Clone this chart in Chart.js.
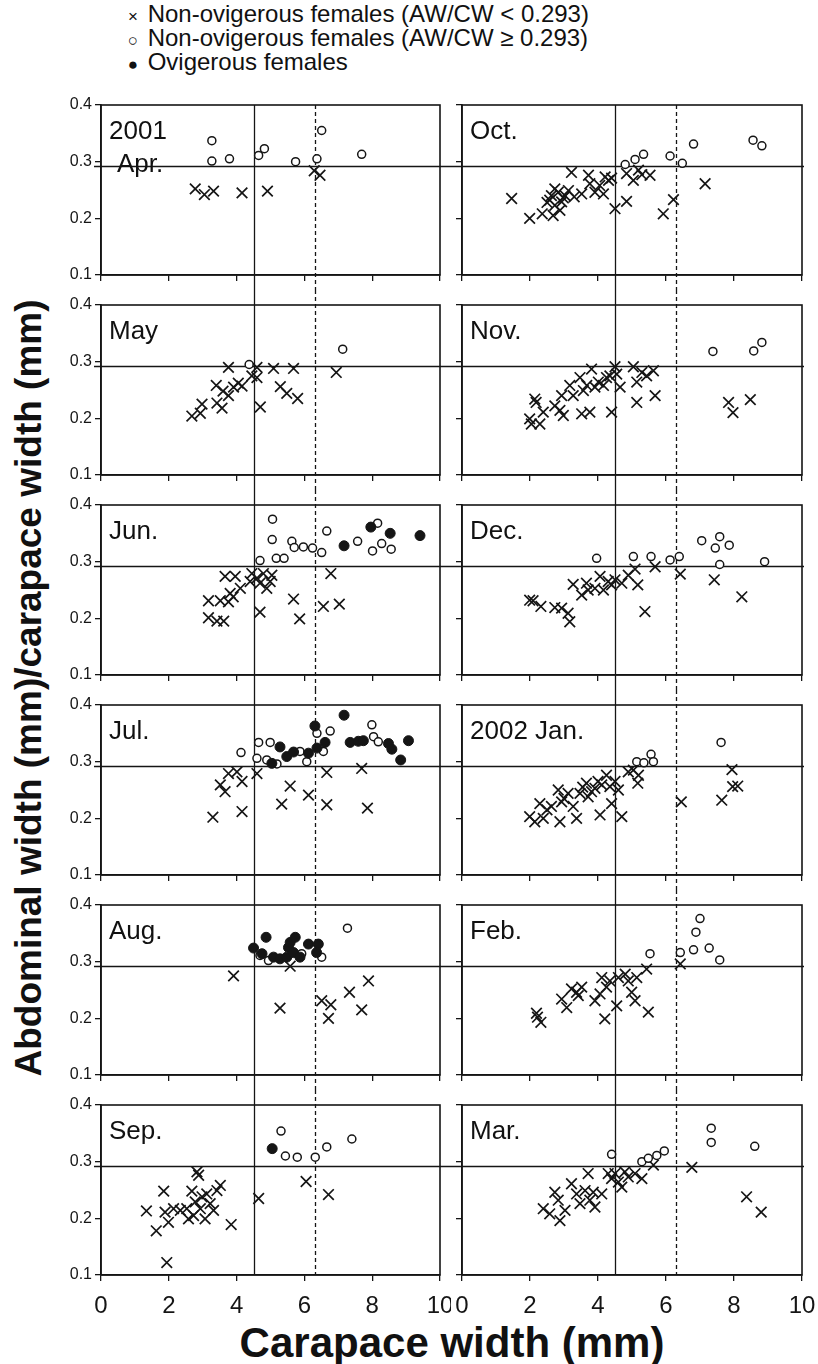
<!DOCTYPE html>
<html>
<head>
<meta charset="utf-8">
<script src="https://cdn.jsdelivr.net/npm/chart.js@4/dist/chart.umd.min.js"></script>
<style>
body { margin: 0; background: #fff; font-family: "Liberation Sans", Arial, sans-serif; color: #111; }
#page { position: relative; width: 818px; height: 1364px; overflow: hidden; }
.box { position: absolute; }
.lg { position: absolute; left: 125px; font-size: 24px; line-height: 24px; white-space: nowrap; }
.lg .mk { display: inline-block; width: 16px; text-align: center; font-size: 17px; }
.ptitle { position: absolute; font-size: 26px; line-height: 33px; white-space: nowrap; }
.ptitle .ind { padding-left: 8px; }
.rot { position: absolute; left: 29px; top: 688px; width: 0; height: 0; }
#ytitle { position: absolute; left: 0; top: 0; transform: translate(-50%, -50%) rotate(-90deg);
  font-weight: bold; font-size: 37px; line-height: 40px; white-space: nowrap; }
#xtitle { position: absolute; left: 452px; top: 1343px; transform: translate(-50%, -50%);
  font-weight: bold; font-size: 42px; line-height: 42px; white-space: nowrap; }
</style>
</head>
<body>
<div id="page">
  <div class="lg" style="top:2px"><span class="mk">×</span> Non-ovigerous females (AW/CW &lt; 0.293)</div>
  <div class="lg" style="top:26px"><span class="mk">○</span> Non-ovigerous females (AW/CW ≥ 0.293)</div>
  <div class="lg" style="top:50px"><span class="mk">●</span> Ovigerous females</div>
  <div class="rot"><div id="ytitle">Abdominal width (mm)/carapace width (mm)</div></div>
  <div id="xtitle">Carapace width (mm)</div>
</div>
<script>
// Tick values and threshold lines
const xTicks = [0, 2, 4, 6, 8, 10];
const yTicks = [0.1, 0.2, 0.3, 0.4];
const ratioCut = 0.293;
const cwSolid = 4.5;
const cwDashed = 6.3;

// [carapace width, AW/CW] per month
const aprCross = [[2.78,0.252],[3.05,0.242],[3.32,0.248],[4.16,0.245],[4.91,0.248],[6.29,0.284],[6.46,0.276]];
const aprOpen = [[3.27,0.337],[3.27,0.301],[3.79,0.305],[4.65,0.311],[4.82,0.323],[5.74,0.300],[6.37,0.305],[6.51,0.355],[7.69,0.313]];

const mayCross = [[2.68,0.204],[2.93,0.209],[2.98,0.225],[3.42,0.227],[3.57,0.218],[3.76,0.290],[3.40,0.258],[3.60,0.248],[3.76,0.240],[3.91,0.255],[4.16,0.257],[4.05,0.262],[4.45,0.275],[4.60,0.272],[4.60,0.290],[4.70,0.220],[5.09,0.288],[5.68,0.288],[5.29,0.256],[5.48,0.244],[5.80,0.235],[6.94,0.281]];
const mayOpen = [[4.37,0.295],[7.13,0.322]];

const junCross = [[3.17,0.201],[3.42,0.195],[3.62,0.195],[3.17,0.231],[3.52,0.231],[3.66,0.274],[3.96,0.274],[3.81,0.244],[3.76,0.229],[3.90,0.238],[4.11,0.253],[4.45,0.279],[4.60,0.271],[4.69,0.262],[4.79,0.279],[4.89,0.253],[5.04,0.276],[4.99,0.265],[4.40,0.265],[4.69,0.211],[5.68,0.234],[5.86,0.199],[6.56,0.221],[6.78,0.279],[7.03,0.225]];
const junOpen = [[5.06,0.375],[5.05,0.339],[4.69,0.302],[5.17,0.306],[5.40,0.306],[5.63,0.336],[5.70,0.325],[5.97,0.326],[6.24,0.324],[6.51,0.316],[6.66,0.354],[7.57,0.336],[8.01,0.319],[8.16,0.368],[8.28,0.332],[8.56,0.322]];
const junFilled = [[7.17,0.328],[7.96,0.361],[8.53,0.350],[9.41,0.346]];

const julCross = [[3.30,0.202],[3.52,0.259],[3.66,0.247],[3.76,0.279],[4.01,0.282],[4.16,0.265],[4.16,0.212],[4.60,0.279],[5.33,0.225],[5.58,0.257],[6.12,0.241],[6.66,0.281],[6.66,0.224],[7.69,0.288],[7.86,0.218]];
const julOpen = [[4.13,0.316],[4.65,0.334],[4.99,0.334],[4.60,0.306],[4.89,0.303],[5.19,0.296],[5.87,0.318],[6.07,0.300],[6.37,0.350],[6.76,0.354],[6.56,0.318],[7.99,0.365],[8.04,0.344],[8.18,0.335]];
const julFilled = [[5.04,0.297],[5.28,0.326],[5.48,0.309],[5.68,0.317],[6.12,0.315],[6.31,0.363],[6.37,0.324],[6.61,0.334],[7.17,0.382],[7.35,0.334],[7.59,0.336],[7.74,0.337],[8.48,0.332],[8.58,0.322],[8.84,0.303],[9.07,0.337]];

const augCross = [[3.91,0.275],[5.28,0.218],[5.58,0.292],[6.51,0.231],[6.78,0.224],[6.71,0.200],[7.33,0.246],[7.69,0.215],[7.89,0.266]];
const augOpen = [[4.69,0.311],[4.94,0.302],[5.92,0.314],[6.51,0.308],[7.27,0.359]];
const augFilled = [[4.50,0.324],[4.87,0.343],[4.75,0.314],[5.09,0.308],[5.28,0.305],[5.48,0.308],[5.53,0.325],[5.58,0.334],[5.73,0.343],[5.68,0.316],[5.87,0.308],[6.12,0.331],[6.41,0.331],[6.36,0.316]];

const sepCross = [[1.34,0.213],[1.63,0.178],[1.85,0.248],[1.89,0.211],[1.94,0.122],[1.99,0.193],[2.14,0.217],[2.34,0.214],[2.53,0.217],[2.58,0.199],[2.68,0.248],[2.73,0.205],[2.78,0.229],[2.83,0.282],[2.88,0.276],[2.93,0.217],[2.98,0.238],[3.07,0.199],[3.12,0.243],[3.22,0.226],[3.32,0.214],[3.42,0.249],[3.52,0.258],[3.84,0.189],[4.65,0.235],[6.05,0.265],[6.71,0.242]];
const sepOpen = [[5.31,0.354],[5.44,0.310],[5.79,0.308],[6.32,0.308],[6.66,0.326],[7.40,0.340]];
const sepFilled = [[5.05,0.323]];

const octCross = [[1.46,0.235],[1.99,0.200],[2.36,0.208],[2.50,0.228],[2.63,0.240],[2.73,0.223],[2.68,0.205],[2.83,0.246],[2.93,0.229],[2.98,0.236],[3.03,0.240],[3.13,0.249],[2.73,0.252],[2.58,0.232],[2.88,0.214],[3.30,0.238],[3.22,0.281],[3.52,0.243],[3.72,0.276],[3.76,0.261],[3.91,0.246],[4.05,0.258],[4.16,0.243],[4.21,0.273],[4.31,0.267],[4.40,0.271],[4.50,0.217],[4.84,0.230],[4.84,0.279],[5.04,0.267],[5.19,0.285],[5.29,0.277],[5.53,0.276],[5.92,0.208],[6.22,0.233],[7.15,0.261]];
const octOpen = [[4.80,0.295],[5.09,0.304],[5.34,0.313],[6.12,0.310],[6.48,0.297],[6.81,0.331],[8.56,0.338],[8.82,0.328]];

const novCross = [[2.04,0.190],[2.29,0.190],[1.99,0.199],[2.14,0.234],[2.18,0.228],[2.39,0.211],[2.73,0.222],[2.88,0.214],[2.98,0.205],[2.93,0.240],[3.17,0.258],[3.27,0.240],[3.47,0.272],[3.52,0.208],[3.76,0.211],[3.57,0.249],[3.67,0.258],[3.81,0.287],[3.91,0.255],[4.01,0.264],[4.16,0.258],[4.25,0.272],[4.35,0.275],[4.40,0.211],[4.50,0.291],[4.55,0.278],[4.65,0.255],[5.04,0.291],[5.14,0.264],[5.14,0.228],[5.29,0.281],[5.43,0.275],[5.63,0.284],[5.68,0.240],[7.84,0.228],[7.97,0.210],[8.48,0.233]];
const novOpen = [[7.38,0.318],[8.58,0.319],[8.82,0.334]];

const decCross = [[1.99,0.232],[2.09,0.231],[2.32,0.221],[2.73,0.219],[2.93,0.218],[3.12,0.209],[3.17,0.194],[3.27,0.260],[3.52,0.241],[3.66,0.262],[3.71,0.250],[3.91,0.253],[4.06,0.274],[4.16,0.250],[4.30,0.265],[4.40,0.259],[4.50,0.268],[4.70,0.262],[4.89,0.276],[5.09,0.287],[5.17,0.259],[5.38,0.212],[5.68,0.291],[6.42,0.278],[7.42,0.268],[8.23,0.238]];
const decOpen = [[3.96,0.306],[5.04,0.309],[5.56,0.309],[6.12,0.303],[6.39,0.309],[7.05,0.337],[7.45,0.324],[7.58,0.344],[7.86,0.329],[7.58,0.295],[8.90,0.300]];

const janCross = [[1.99,0.203],[2.14,0.194],[2.29,0.226],[2.39,0.200],[2.50,0.215],[2.63,0.221],[2.83,0.250],[2.88,0.194],[2.93,0.229],[3.00,0.235],[3.12,0.244],[3.27,0.221],[3.37,0.200],[3.47,0.244],[3.55,0.255],[3.66,0.262],[3.71,0.238],[3.81,0.247],[3.91,0.253],[4.00,0.265],[4.06,0.206],[4.11,0.259],[4.25,0.276],[4.35,0.256],[4.40,0.226],[4.50,0.265],[4.60,0.250],[4.70,0.203],[4.89,0.282],[5.04,0.285],[5.17,0.262],[5.19,0.276],[6.45,0.229],[7.64,0.232],[7.94,0.286],[7.96,0.256],[8.11,0.257]];
const janOpen = [[5.14,0.300],[5.35,0.298],[5.56,0.313],[5.63,0.300],[7.62,0.334]];

const febCross = [[2.19,0.209],[2.22,0.202],[2.32,0.193],[2.93,0.234],[3.08,0.219],[3.22,0.252],[3.37,0.246],[3.52,0.255],[3.42,0.240],[3.91,0.231],[4.06,0.243],[4.11,0.272],[4.20,0.199],[4.25,0.255],[4.35,0.266],[4.55,0.222],[4.60,0.272],[4.80,0.278],[4.89,0.266],[4.99,0.246],[5.09,0.231],[5.14,0.272],[5.43,0.287],[5.48,0.211],[6.42,0.296]];
const febOpen = [[7.00,0.376],[6.88,0.352],[6.81,0.321],[6.42,0.316],[7.27,0.324],[7.58,0.303],[5.53,0.314]];

const marCross = [[2.39,0.217],[2.58,0.208],[2.73,0.246],[2.83,0.232],[2.88,0.196],[3.03,0.214],[3.22,0.261],[3.37,0.243],[3.47,0.226],[3.62,0.249],[3.71,0.279],[3.76,0.232],[3.86,0.246],[3.91,0.220],[4.11,0.243],[4.30,0.279],[4.40,0.270],[4.50,0.279],[4.60,0.264],[4.70,0.255],[4.79,0.282],[4.89,0.273],[5.09,0.279],[5.29,0.270],[5.63,0.294],[6.76,0.290],[8.37,0.238],[8.80,0.211]];
const marOpen = [[4.40,0.313],[5.29,0.300],[5.48,0.306],[5.73,0.311],[5.95,0.319],[7.33,0.359],[7.33,0.334],[8.61,0.327]];

// left column top to bottom, then right column
const panels = [
  { title: '2001<br><span class="ind">Apr.</span>', cross: aprCross, open: aprOpen, filled: [] },
  { title: 'May', cross: mayCross, open: mayOpen, filled: [] },
  { title: 'Jun.', cross: junCross, open: junOpen, filled: junFilled },
  { title: 'Jul.', cross: julCross, open: julOpen, filled: julFilled },
  { title: 'Aug.', cross: augCross, open: augOpen, filled: augFilled },
  { title: 'Sep.', cross: sepCross, open: sepOpen, filled: sepFilled },
  { title: 'Oct.', cross: octCross, open: octOpen, filled: [] },
  { title: 'Nov.', cross: novCross, open: novOpen, filled: [] },
  { title: 'Dec.', cross: decCross, open: decOpen, filled: [] },
  { title: '2002 Jan.', cross: janCross, open: janOpen, filled: [] },
  { title: 'Feb.', cross: febCross, open: febOpen, filled: [] },
  { title: 'Mar.', cross: marCross, open: marOpen, filled: [] }
];

// Layout
const ROW0 = 105, ROW_STEP = 200, PLOT_H = 170, HALF_GAP = 15, BOTTOM_AXIS = 52;
const COLS = [
  { left: 0, width: 451, yAxisW: 101, padRight: 11 },
  { left: 451, width: 367, yAxisW: 11, padRight: 16 }
];
const INK = '#151515';
const FONT = '"Liberation Sans", Arial, sans-serif';

const toXY = arr => arr.map(p => ({ x: p[0], y: p[1] }));

const framePlugin = {
  id: 'frame',
  beforeDatasetsDraw(chart, args, opts) {
    const { ctx, chartArea: a, scales: { x, y } } = chart;
    ctx.save();
    ctx.strokeStyle = INK;
    // AW/CW threshold, runs across the column gap
    ctx.lineWidth = 1.3;
    const yc = Math.round(y.getPixelForValue(ratioCut)) + 0.5;
    ctx.beginPath();
    ctx.moveTo(opts.col === 0 ? a.left - 7 : 0, yc);
    ctx.lineTo(opts.col === 0 ? chart.width : a.right + 2, yc);
    ctx.stroke();
    // size thresholds, continuous through the row gaps
    const top = opts.row === 0 ? a.top : 0;
    const bot = opts.row === 5 ? a.bottom : chart.height;
    const xs = Math.round(x.getPixelForValue(cwSolid)) + 0.5;
    ctx.beginPath();
    ctx.moveTo(xs, top);
    ctx.lineTo(xs, bot);
    ctx.stroke();
    const xd = Math.round(x.getPixelForValue(cwDashed)) + 0.5;
    ctx.setLineDash([4, 3]);
    ctx.beginPath();
    ctx.moveTo(xd, top);
    ctx.lineTo(xd, bot);
    ctx.stroke();
    ctx.setLineDash([]);
    // panel frame
    ctx.lineWidth = 1.6;
    ctx.strokeRect(a.left, a.top, a.right - a.left, a.bottom - a.top);
    ctx.restore();
  }
};

const page = document.getElementById('page');

panels.forEach((p, i) => {
  const col = Math.floor(i / 6), row = i % 6;
  const c = COLS[col];
  const rowTop = ROW0 + row * ROW_STEP;
  const last = row === 5;
  const h = PLOT_H + HALF_GAP + (last ? BOTTOM_AXIS : HALF_GAP);

  const holder = document.createElement('div');
  holder.className = 'box';
  holder.style.left = c.left + 'px';
  holder.style.top = (rowTop - HALF_GAP) + 'px';
  const canvas = document.createElement('canvas');
  canvas.width = c.width;
  canvas.height = h;
  holder.appendChild(canvas);
  page.appendChild(holder);

  const t = document.createElement('div');
  t.className = 'ptitle';
  t.innerHTML = p.title;
  t.style.left = (c.left + c.yAxisW + 8) + 'px';
  t.style.top = (rowTop + 9) + 'px';
  page.appendChild(t);

  new Chart(canvas, {
    type: 'scatter',
    data: {
      datasets: [
        { data: toXY(p.filled), pointStyle: 'circle', pointRadius: 5, pointBorderWidth: 1,
          pointBackgroundColor: INK, pointBorderColor: INK },
        { data: toXY(p.open), pointStyle: 'circle', pointRadius: 4, pointBorderWidth: 1.5,
          pointBackgroundColor: '#fff', pointBorderColor: INK },
        { data: toXY(p.cross), pointStyle: 'crossRot', pointRadius: 7.5, pointBorderWidth: 1.7,
          pointBorderColor: INK }
      ]
    },
    options: {
      responsive: false,
      animation: false,
      events: [],
      layout: { padding: { top: HALF_GAP, right: c.padRight, left: 0, bottom: 0 } },
      plugins: {
        legend: { display: false },
        tooltip: { enabled: false },
        frame: { row: row, col: col }
      },
      scales: {
        x: {
          type: 'linear', min: 0, max: 10,
          afterBuildTicks: s => { s.ticks = xTicks.map(v => ({ value: v })); },
          afterFit: s => {
            s.height = last ? BOTTOM_AXIS : HALF_GAP;
            s.paddingLeft = 0;
            s.paddingRight = 0;
          },
          ticks: { display: last, color: INK, padding: 11, maxRotation: 0,
                   font: { family: FONT, size: 24 } },
          grid: { drawOnChartArea: false, drawTicks: true, tickLength: 6, color: INK, lineWidth: 1.3 },
          border: { color: INK, width: 1.6 }
        },
        y: {
          type: 'linear', min: 0.1, max: 0.4,
          afterBuildTicks: s => { s.ticks = yTicks.map(v => ({ value: v })); },
          afterFit: s => {
            s.width = c.yAxisW;
            s.paddingTop = 0;
            s.paddingBottom = 0;
          },
          ticks: { display: col === 0, color: INK, padding: 3, font: { family: FONT, size: 16 },
                   callback: v => v.toFixed(1) },
          grid: { drawOnChartArea: false, drawTicks: true, tickLength: 6, color: INK, lineWidth: 1.3 },
          border: { color: INK, width: 1.6 }
        }
      }
    },
    plugins: [framePlugin]
  });
});
</script>
</body>
</html>
